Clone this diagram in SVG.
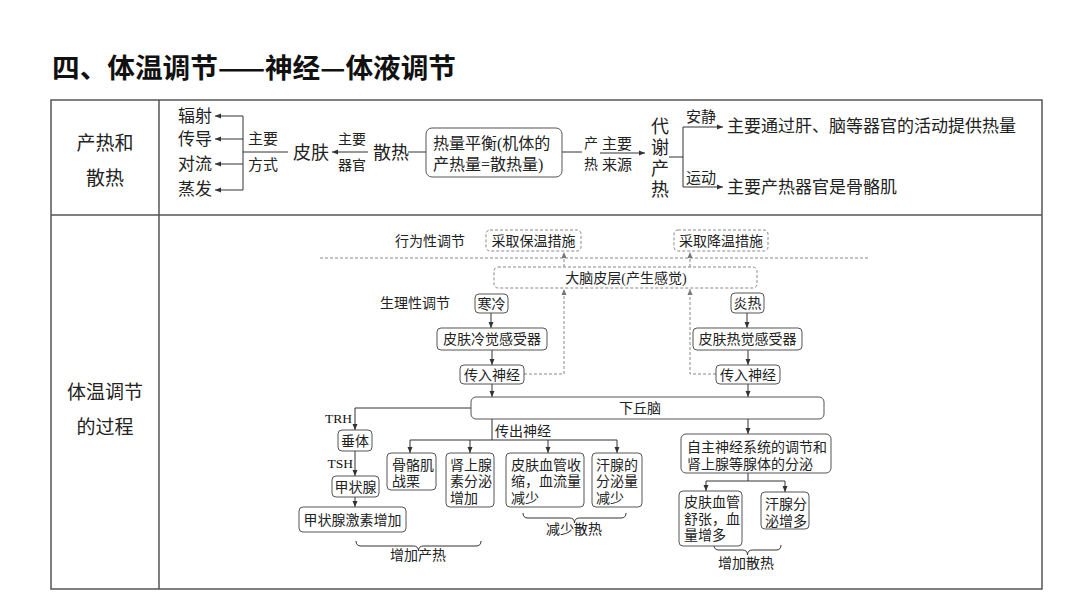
<svg xmlns="http://www.w3.org/2000/svg" width="1080" height="607" viewBox="0 0 1080 607">
<defs>
<marker id="ah" markerWidth="6" markerHeight="6" refX="6" refY="3" orient="auto" markerUnits="userSpaceOnUse"><path d="M0,0.5 L6,3 L0,5.5 z" fill="#333"/></marker>
<marker id="ahd" markerWidth="6" markerHeight="6" refX="6" refY="3" orient="auto" markerUnits="userSpaceOnUse"><path d="M0,0.5 L6,3 L0,5.5 z" fill="#777"/></marker>
<style>
text{font-family:"Liberation Serif","Noto Sans CJK SC",serif;fill:#222}
.sans{font-family:"Noto Sans CJK SC","Noto Sans",sans-serif}
.t17{font-size:17px}.t16{font-size:16px}.t15{font-size:15px}.t14{font-size:14px}.t18{font-size:18px}.t19{font-size:19px}
.m{text-anchor:middle}
.ln{fill:none;stroke:#333;stroke-width:1}
.ar{fill:none;stroke:#333;stroke-width:1;marker-end:url(#ah)}
.da{fill:none;stroke:#888;stroke-width:1;stroke-dasharray:3,2}
.daa{fill:none;stroke:#888;stroke-width:1;stroke-dasharray:3,2;marker-end:url(#ahd)}
.bx{fill:#fff;stroke:#555;stroke-width:1}
.dbx{fill:#fff;stroke:#888;stroke-width:1;stroke-dasharray:3,2}
.ser{font-size:13.5px;text-anchor:end;fill:#111}
</style>
</defs>
<rect width="1080" height="607" fill="#fff"/>
<text class="sans" x="52" y="78" style="font-size:27px;font-weight:bold;fill:#111" textLength="404" lengthAdjust="spacingAndGlyphs">四、体温调节——神经—体液调节</text>
<g id="table">
<rect x="51" y="100" width="991" height="489" fill="none" stroke="#555" stroke-width="1.5"/>
<line x1="159" y1="100" x2="159" y2="589" stroke="#555" stroke-width="1.5"/>
<line x1="51" y1="215" x2="1042" y2="215" stroke="#555" stroke-width="1.5"/>
<text class="sans t19 m" x="105" y="150">产热和<tspan x="105" dy="35">散热</tspan></text>
<text class="sans t19 m" x="105" y="399">体温调节<tspan x="105" dy="35">的过程</tspan></text>
</g>
<g id="connectors">
<path class="ln" d="M243,116 V190 M243,152 H288"/>
<path class="ar" d="M243,116 H215"/>
<path class="ar" d="M243,139 H215"/>
<path class="ar" d="M243,164 H215"/>
<path class="ar" d="M243,190 H215"/>
<path class="ar" d="M368,152 H332"/>
<path class="ln" d="M408,152 H426"/>
<path class="ln" d="M562,152 H582"/>
<path class="ar" d="M600,153 H645"/>
<path class="ln" d="M669,157 H683 M683,127 V187"/>
<path class="ar" d="M683,127 H723"/>
<path class="ar" d="M683,187 H723"/>
<path class="da" d="M320,258 H868"/>
<path class="daa" d="M524,374 H564 V289"/>
<path class="daa" d="M564,267 V252"/>
<path class="daa" d="M716,374 H690 V289"/>
<path class="daa" d="M690,267 V252"/>
<path class="ar" d="M491,313 V328"/>
<path class="ar" d="M492,350 V365"/>
<path class="ar" d="M492,384 V397"/>
<path class="ar" d="M747,313 V328"/>
<path class="ar" d="M748,350 V365"/>
<path class="ar" d="M748,384 V397"/>
<path class="ar" d="M471,408 H355 V430"/>
<path class="ar" d="M355,451 V476"/>
<path class="ar" d="M355,497 V507"/>
<path class="ln" d="M492,419 V440 M410,440 H617"/>
<path class="ar" d="M410,440 V453"/>
<path class="ar" d="M470,440 V453"/>
<path class="ar" d="M548,440 V453"/>
<path class="ar" d="M617,440 V453"/>
<path class="ar" d="M748,419 V434"/>
<path class="ln" d="M748,473 V481 M706,481 H785"/>
<path class="ar" d="M706,481 V491"/>
<path class="ar" d="M785,481 V492"/>
<path class="ln" d="M523,513 q0,5 5,5 H569.5 q5,0 5,5 q0,-5 5,-5 H621 q5,0 5,-5"/>
<path class="ln" d="M356,541 q0,5 5,5 H413.5 q5,0 5,5 q0,-5 5,-5 H476 q5,0 5,-5"/>
<path class="ln" d="M714,545 q0,5 5,5 H742.5 q5,0 5,5 q0,-5 5,-5 H776 q5,0 5,-5"/>
</g>
<g id="n-modes">
<text class="t17" x="178" y="122">辐射<tspan x="178" dy="23">传导</tspan><tspan x="178" dy="25">对流</tspan><tspan x="178" dy="25">蒸发</tspan></text>
<text class="t15 m" x="263" y="143.5">主要<tspan x="263" dy="26">方式</tspan></text>
</g>
<g id="n-skin"><text class="t18" x="293" y="158.6">皮肤</text>
<text class="t14 m" x="352" y="144">主要<tspan x="352" dy="26">器官</tspan></text></g>
<g id="n-sanre"><text class="t18" x="373" y="158.6">散热</text></g>
<g id="n-balance">
<rect class="bx" x="426" y="128" width="136" height="49" rx="6"/>
<text class="t16" x="433" y="149">热量平衡(机体的<tspan x="433" dy="21">产热量=散热量)</tspan></text>
</g>
<g id="n-chanre">
<text class="t14 m" x="591" y="148">产<tspan x="591" dy="21">热</tspan></text>
<text class="t15" x="602" y="148.5">主要<tspan x="602" dy="21">来源</tspan></text>
</g>
<g id="n-metab">
<text class="t18 m" x="660" y="132.6">代<tspan x="660" dy="21">谢</tspan><tspan x="660" dy="21">产</tspan><tspan x="660" dy="21">热</tspan></text>
<text class="t15" x="686" y="121.5">安静</text>
<text class="t15" x="686" y="182.5">运动</text>
</g>
<g id="n-rest"><text class="t17" x="727" y="132">主要通过肝、脑等器官的活动提供热量</text></g>
<g id="n-exercise"><text class="t17" x="727" y="193">主要产热器官是骨骼肌</text></g>
<g id="n-labels">
<text class="t14" x="395" y="246">行为性调节</text>
<text class="t14" x="380" y="308">生理性调节</text>
</g>
<g id="n-warm"><rect class="dbx" x="486" y="230" width="95" height="21" rx="4"/><text class="t14 m" x="533.5" y="246">采取保温措施</text></g>
<g id="n-cool"><rect class="dbx" x="674" y="230" width="94" height="21" rx="4"/><text class="t14 m" x="721" y="246">采取降温措施</text></g>
<g id="n-cortex"><rect class="dbx" x="494" y="267" width="263" height="21" rx="4"/><text class="t14 m" x="626" y="283">大脑皮层(产生感觉)</text></g>
<g id="n-cold"><rect class="bx" x="475" y="294" width="33" height="19" rx="4"/><text class="t14 m" x="491.5" y="308.7">寒冷</text></g>
<g id="n-coldrec"><rect class="bx" x="437" y="328" width="110" height="22" rx="4"/><text class="t14 m" x="492" y="344">皮肤冷觉感受器</text></g>
<g id="n-aff1"><rect class="bx" x="460" y="365" width="64" height="19" rx="4"/><text class="t14 m" x="492" y="379.7">传入神经</text></g>
<g id="n-hot"><rect class="bx" x="731" y="293" width="33" height="20" rx="4"/><text class="t14 m" x="747.5" y="308.2">炎热</text></g>
<g id="n-hotrec"><rect class="bx" x="693" y="328" width="109" height="22" rx="4"/><text class="t14 m" x="747.5" y="344">皮肤热觉感受器</text></g>
<g id="n-aff2"><rect class="bx" x="716" y="365" width="64" height="19" rx="4"/><text class="t14 m" x="748" y="379.7">传入神经</text></g>
<g id="n-hypo"><rect class="bx" x="471" y="397" width="353" height="22" rx="5"/><text class="t14 m" x="640" y="413">下丘脑</text></g>
<g id="n-pit"><text class="ser" x="352" y="423">TRH</text><rect class="bx" x="338" y="430" width="34" height="21" rx="4"/><text class="t14 m" x="355" y="445.7">垂体</text></g>
<g id="n-thy"><text class="ser" x="353" y="468">TSH</text><rect class="bx" x="332" y="476" width="47" height="21" rx="4"/><text class="t14 m" x="355.5" y="491.7">甲状腺</text></g>
<g id="n-thyh"><rect class="bx" x="299" y="507" width="107" height="25" rx="4"/><text class="t14 m" x="352.5" y="524.7">甲状腺激素增加</text></g>
<g id="n-eff"><text class="t14" x="495" y="436">传出神经</text></g>
<g id="n-shiver"><rect class="bx" x="387" y="453" width="49" height="37" rx="4"/><text class="t14" x="392" y="470.2">骨骼肌<tspan x="392" dy="16">战栗</tspan></text></g>
<g id="n-adr"><rect class="bx" x="446" y="453" width="48" height="54" rx="4"/><text class="t14" x="450" y="470.2">肾上腺<tspan x="450" dy="16">素分泌</tspan><tspan x="450" dy="17">增加</tspan></text></g>
<g id="n-vc"><rect class="bx" x="506" y="453" width="78" height="54" rx="4"/><text class="t14" x="511" y="470.2">皮肤血管收<tspan x="511" dy="16">缩，血流量</tspan><tspan x="511" dy="17">减少</tspan></text></g>
<g id="n-sw1"><rect class="bx" x="592" y="453" width="50" height="54" rx="4"/><text class="t14" x="596" y="470.2">汗腺的<tspan x="596" dy="16">分泌量</tspan><tspan x="596" dy="17">减少</tspan></text></g>
<g id="n-auto"><rect class="bx" x="681" y="434" width="150" height="39" rx="5"/><text class="t14" x="687" y="452.2">自主神经系统的调节和<tspan x="687" dy="17">肾上腺等腺体的分泌</tspan></text></g>
<g id="n-vd"><rect class="bx" x="679" y="491" width="63" height="55" rx="4"/><text class="t14" x="684" y="507.2">皮肤血管<tspan x="684" dy="17">舒张，血</tspan><tspan x="684" dy="16">量增多</tspan></text></g>
<g id="n-sw2"><rect class="bx" x="761" y="492" width="48" height="37" rx="4"/><text class="t14" x="765" y="509.2">汗腺分<tspan x="765" dy="17">泌增多</tspan></text></g>
<g id="n-braces">
<text class="t14 m" x="574" y="534">减少散热</text>
<text class="t14 m" x="418" y="560">增加产热</text>
<text class="t14 m" x="746" y="568">增加散热</text>
</g>
</svg>
